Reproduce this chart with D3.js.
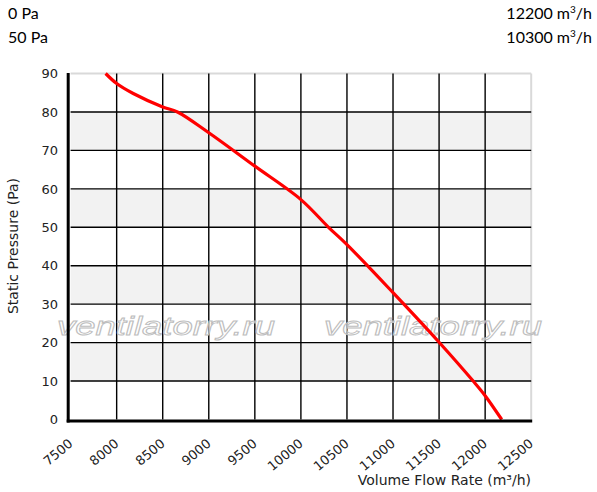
<!DOCTYPE html>
<html>
<head>
<meta charset="utf-8">
<script src="https://cdn.jsdelivr.net/npm/d3@7/dist/d3.min.js"></script>
<style>
  html, body { margin: 0; padding: 0; background: #fff; }
  svg { display: block; }
</style>
</head>
<body>
<script>
// ---- data ----
const flowValues = [7880, 8000, 8180, 8500, 8660, 9000, 9500, 10000, 10300, 10500, 11000, 11500, 11870, 12000, 12180];
const pressureValues = [90, 87.4, 84.8, 81.3, 80, 74.6, 65.9, 57.2, 50, 45.5, 33, 20.1, 10, 6.2, 0];
const xTicks = [7500, 8000, 8500, 9000, 9500, 10000, 10500, 11000, 11500, 12000, 12500];
const yTicks = [0, 10, 20, 30, 40, 50, 60, 70, 80, 90];
const infoLeft = ["0 Pa", "50 Pa"];
const infoRight = ["12200", "10300"];
const watermarkText = "ventilatorry.ru";

const W = 597, H = 492;
const svg = d3.select("body").append("svg").attr("width", W).attr("height", H);

const x = d3.scaleLinear().domain([7500, 12500]).range([70.6, 531.2]);
const y = d3.scaleLinear().domain([0, 90]).range([419.5, 73.5]);

// alternating bands
const bands = [10, 30, 50, 70];
svg.append("g").selectAll("rect").data(bands).join("rect")
  .attr("x", x(7500)).attr("width", x(12500) - x(7500))
  .attr("y", d => y(d + 10)).attr("height", d => y(d) - y(d + 10))
  .attr("fill", "#f2f2f2");

// top & right light border
svg.append("line").attr("x1", x(7500)).attr("x2", x(12500)).attr("y1", y(90)).attr("y2", y(90))
  .attr("stroke", "#d9d9d9").attr("stroke-width", 2);
svg.append("line").attr("x1", x(12500)).attr("x2", x(12500)).attr("y1", y(90)).attr("y2", y(0))
  .attr("stroke", "#d9d9d9").attr("stroke-width", 2);

// grid lines
const gx = xTicks.filter(t => t > 7500 && t < 12500);
svg.append("g").selectAll("line").data(gx).join("line")
  .attr("x1", d => x(d)).attr("x2", d => x(d))
  .attr("y1", y(90)).attr("y2", y(0))
  .attr("stroke", "#000").attr("stroke-width", 1.4);
const gy = yTicks.filter(t => t > 0 && t < 90);
svg.append("g").selectAll("line").data(gy).join("line")
  .attr("x1", x(7500)).attr("x2", x(12500))
  .attr("y1", d => y(d)).attr("y2", d => y(d))
  .attr("stroke", "#000").attr("stroke-width", 1.4);

// watermark
[166, 433].forEach(cx => {
  svg.append("text")
    .attr("x", cx).attr("y", 335)
    .attr("text-anchor", "middle")
    .attr("font-family", "Liberation Sans, Arial, sans-serif")
    .attr("font-style", "italic")
    .attr("font-size", 26)
    .attr("textLength", 218).attr("lengthAdjust", "spacingAndGlyphs")
    .attr("fill", "rgba(255,255,255,0.55)")
    .attr("stroke", "#bdbdbd").attr("stroke-width", 0.9)
    .text(watermarkText);
});

// curve
const pts = flowValues.map((f, i) => [f, pressureValues[i]]);
svg.append("path").datum(pts)
  .attr("d", d3.line().x(d => x(d[0])).y(d => y(d[1])).curve(d3.curveCatmullRom.alpha(0.5)))
  .attr("fill", "none").attr("stroke", "#ff0000").attr("stroke-width", 3.2)
  .attr("stroke-linecap", "butt");

// axes (thick)
svg.append("line").attr("x1", 68.2).attr("x2", 68.2).attr("y1", y(90) - 0.5).attr("y2", 422.5)
  .attr("stroke", "#000").attr("stroke-width", 3);
svg.append("line").attr("x1", 66.7).attr("x2", x(12500) + 1).attr("y1", 421).attr("y2", 421)
  .attr("stroke", "#000").attr("stroke-width", 3);

// y tick labels
svg.append("g").selectAll("text").data(yTicks).join("text")
  .attr("x", 58).attr("y", d => y(d) + 4.7)
  .attr("text-anchor", "end")
  .attr("font-family", "DejaVu Sans, sans-serif").attr("font-size", 13)
  .attr("fill", "#222")
  .text(d => d);

// x tick labels
svg.append("g").selectAll("text").data(xTicks).join("text")
  .attr("transform", d => `translate(${x(d) + 3},445) rotate(-40)`)
  .attr("text-anchor", "end")
  .attr("font-family", "DejaVu Sans, sans-serif").attr("font-size", 13)
  .attr("fill", "#222")
  .text(d => d);

// axis titles
svg.append("text")
  .attr("transform", "translate(18,246) rotate(-90)")
  .attr("text-anchor", "middle")
  .attr("font-family", "DejaVu Sans, sans-serif").attr("font-size", 14)
  .attr("fill", "#222")
  .text("Static Pressure (Pa)");
svg.append("text")
  .attr("x", 531).attr("y", 485)
  .attr("text-anchor", "end")
  .attr("font-family", "DejaVu Sans, sans-serif").attr("font-size", 14)
  .attr("fill", "#222")
  .text("Volume Flow Rate (m³/h)");

// info texts
const infoY = [19.3, 43.3];
infoLeft.forEach((t, i) => {
  svg.append("text").attr("x", 8).attr("y", infoY[i])
    .attr("font-family", "Lato, sans-serif").attr("font-size", 16)
    .attr("fill", "#000").text(t);
});
infoRight.forEach((t, i) => {
  const tx = svg.append("text").attr("x", 592).attr("y", infoY[i])
    .attr("text-anchor", "end")
    .attr("font-family", "Lato, sans-serif").attr("font-size", 16)
    .attr("fill", "#000");
  tx.append("tspan").text(t + " m");
  tx.append("tspan").attr("dy", -6).attr("font-size", 10).text("3");
  tx.append("tspan").attr("dy", 6).text("/h");
});
</script>
</body>
</html>
